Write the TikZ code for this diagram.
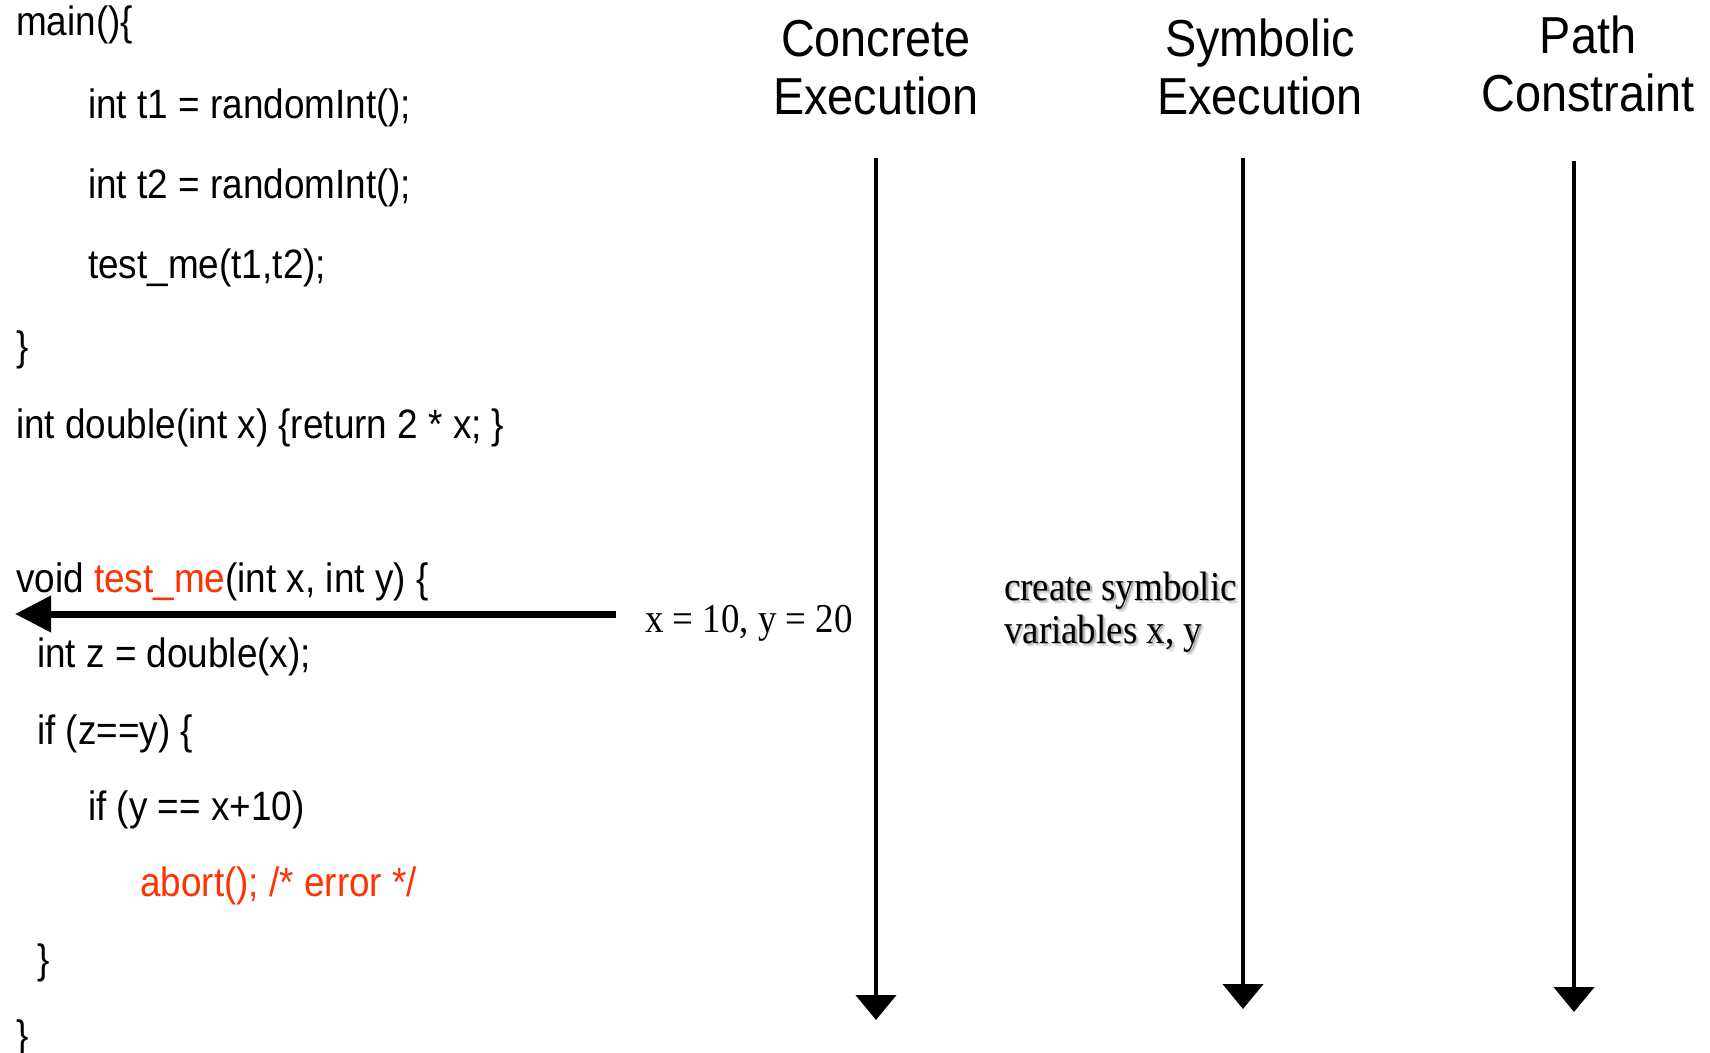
\documentclass[tikz,border=0pt]{standalone}
\usepackage{fontspec}
\setmainfont{Liberation Sans}[FakeStretch=0.9]
\newfontfamily\serifface{Liberation Serif}[FakeStretch=0.9]
\usetikzlibrary{arrows.meta}
\definecolor{codered}{RGB}{255,51,0}
\definecolor{shadowlight}{RGB}{215,215,215}
\definecolor{shadowgray}{RGB}{170,170,170}
\tikzset{
  code/.style={anchor=base west, inner sep=0pt, font=\fontsize{41}{48}\selectfont},
  heading/.style={anchor=base, inner sep=0pt, font=\fontsize{52}{60}\selectfont},
  note/.style={anchor=base west, inner sep=0pt, font=\serifface\fontsize{41}{48}\selectfont},
  timeline/.style={line width=4.5pt, -{Triangle[width=40pt,length=25pt]}},
  callarrow/.style={line width=7pt, -{Triangle[width=35pt,length=36pt]}}
}
\begin{document}
\begin{tikzpicture}[x=1pt,y=-1pt]
\useasboundingbox (0,0) rectangle (1710,1052);

% program text
\node[code] (l1)  at (16,35)   {main()\{};
\node[code] (l2)  at (88,118)  {int t1 = randomInt();};
\node[code] (l3)  at (88,198)  {int t2 = randomInt();};
\node[code] (l4)  at (88,278)  {test\_me(t1,t2);};
\node[code] (l5)  at (16,360)  {\}};
\node[code] (l6)  at (16,438)  {int double(int x) \{return 2 * x; \}};
\node[code] (l7)  at (16,592)  {void \textcolor{codered}{test\_me}(int x, int y) \{};
\node[code] (l8)  at (37,667)  {int z = double(x);};
\node[code] (l9)  at (37,744)  {if (z==y) \{};
\node[code] (l10) at (88,820)  {if (y == x+10)};
\node[code, text=codered] (l11) at (140,896) {abort(); /* error */};
\node[code] (l12) at (37,973)  {\}};
\node[code] (l13) at (16,1049) {\}};

% column headings
\node[heading] (ce1) at (876,56)  {Concrete};
\node[heading] (ce2) at (876,114) {Execution};
\node[heading] (se1) at (1260,56) {Symbolic};
\node[heading] (se2) at (1260,114){Execution};
\node[heading] (pc1) at (1588,53) {Path};
\node[heading] (pc2) at (1588,111){Constraint};

% timelines
\coordinate (ceTop) at (876,158);
\coordinate (ceEnd) at (876,1020);
\coordinate (seTop) at (1243,158);
\coordinate (seEnd) at (1243,1009);
\coordinate (pcTop) at (1574,161);
\coordinate (pcEnd) at (1574,1012);
\draw[timeline] (ceTop) -- (ceEnd);
\draw[timeline] (seTop) -- (seEnd);
\draw[timeline] (pcTop) -- (pcEnd);

% concrete input values and the call into test_me
\node[note] (vals) at (645,632) {x = 10, y = 20};
\coordinate (callStart) at (616,614);
\coordinate (callEnd) at (15,614);
\draw[callarrow] (callStart) -- (callEnd);

% symbolic step, with a soft drop shadow
\node[note, text=shadowlight] (sym1t) at (1007,603) {create symbolic};
\node[note, text=shadowlight] (sym2t) at (1007,646) {variables x, y};
\node[note, text=shadowgray] (sym1s) at (1005.5,601.5) {create symbolic};
\node[note, text=shadowgray] (sym2s) at (1005.5,644.5) {variables x, y};
\node[note] (sym1) at (1004,600) {create symbolic};
\node[note] (sym2) at (1004,643) {variables x, y};
\end{tikzpicture}
\end{document}
